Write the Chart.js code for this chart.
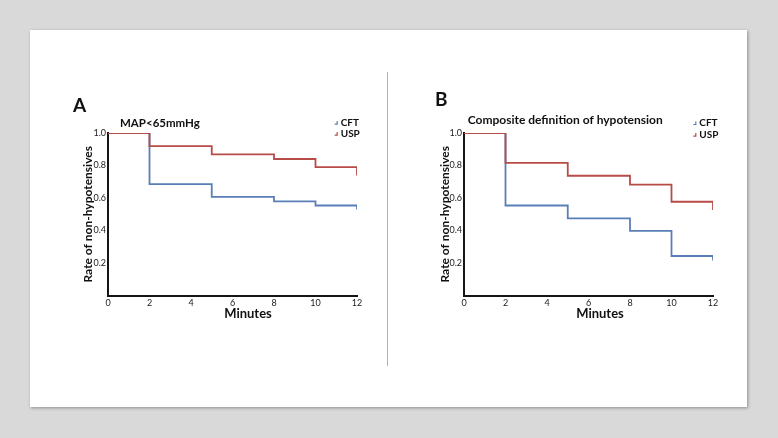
<!DOCTYPE html>
<html>
<head>
<meta charset="utf-8">
<script src="https://cdn.jsdelivr.net/npm/chart.js@4.4.1/dist/chart.umd.min.js"></script>
<style>
  html, body { margin: 0; padding: 0; }
  body { width: 778px; height: 438px; background: #d9d9d9; position: relative; overflow: hidden; font-family: Lato, sans-serif; }
  #card { position: absolute; left: 30px; top: 30px; width: 717px; height: 377px; background: #fff; box-shadow: 1px 1px 3px rgba(0,0,0,0.35); }
  #divider { position: absolute; left: 387px; top: 72px; width: 1px; height: 294px; background: #b3b3b3; }
  canvas { position: absolute; }
  #cA { left: 30px; top: 30px; }
  #cB { left: 389px; top: 30px; }
</style>
</head>
<body>
<div id="card"></div>
<div id="divider"></div>
<canvas id="cA" width="357" height="377"></canvas>
<canvas id="cB" width="357" height="377"></canvas>
<script>
// ---- data ----
const minutes = [0, 2, 5, 8, 10, 12];
const xTicks = [0, 2, 4, 6, 8, 10, 12];
const yTicks = [0.2, 0.4, 0.6, 0.8, 1.0];
const seriesNames = ['CFT', 'USP'];
const panelLetters = ['A', 'B'];
const panelTitles = ['MAP<65mmHg', 'Composite definition of hypotension'];
const xTitle = 'Minutes';
const yTitle = 'Rate of non-hypotensives';
// Panel A (MAP<65mmHg)
const cftA = [1.0, 0.686, 0.607, 0.579, 0.554, 0.53];
const uspA = [1.0, 0.919, 0.869, 0.840, 0.790, 0.739];
// Panel B (composite definition)
const cftB = [1.0, 0.554, 0.475, 0.398, 0.243, 0.216];
const uspB = [1.0, 0.816, 0.737, 0.682, 0.577, 0.526];

const colors = ['#5a7fb6', '#b64b48'];

const panelText = {
  id: 'panelText',
  afterDraw(chart, args, o) {
    const { ctx, chartArea: a } = chart;
    ctx.save();
    ctx.fillStyle = '#111';
    ctx.textBaseline = 'middle';
    ctx.textAlign = 'left';
    ctx.font = 'bold 19px Lato';
    ctx.fillText(o.letter, a.left + o.letterDx, a.top + o.letterDy);
    ctx.font = 'bold ' + o.titleSize + 'px Lato';
    ctx.fillText(o.title, a.left + o.titleDx, a.top + o.titleDy);
    ctx.font = 'bold 10px Lato';
    seriesNames.forEach((n, i) => {
      const x = a.right + o.legendDx;
      const y = a.top + o.legendDy + i * o.legendGap;
      ctx.strokeStyle = colors[i];
      ctx.lineWidth = 1.2;
      ctx.beginPath();
      ctx.moveTo(x - 6, y + 1.5);
      ctx.lineTo(x - 3.5, y + 1.5);
      ctx.lineTo(x - 3.5, y - 1.5);
      ctx.stroke();
      ctx.fillText(n, x, y);
    });
    ctx.textAlign = 'center';
    ctx.font = 'bold 13px Lato';
    ctx.fillText(xTitle, (a.left + a.right) / 2 + o.xTitleDx, a.bottom + o.xTitleDy);
    ctx.restore();
  }
};

function makeChart(id, cft, usp, idx, pad, yWidth, txt) {
  const toPts = arr => minutes.map((m, i) => ({ x: m, y: arr[i] }));
  return new Chart(document.getElementById(id), {
    type: 'line',
    data: {
      datasets: [
        { label: seriesNames[0], data: toPts(cft), borderColor: colors[0], borderWidth: 1.8, pointRadius: 0, stepped: 'before', fill: false, order: 1 },
        { label: seriesNames[1], data: toPts(usp), borderColor: colors[1], borderWidth: 1.8, pointRadius: 0, stepped: 'before', fill: false, order: 0 }
      ]
    },
    options: {
      responsive: false,
      animation: false,
      layout: { padding: pad },
      plugins: {
        legend: { display: false },
        tooltip: { enabled: false },
        panelText: Object.assign({ letter: panelLetters[idx], title: panelTitles[idx] }, txt)
      },
      scales: {
        x: {
          type: 'linear', min: 0, max: 12,
          afterFit: s => { s.height = 30; },
          afterBuildTicks: s => { s.ticks = xTicks.map(v => ({ value: v })); },
          grid: { display: false, drawTicks: false },
          border: { display: true, color: '#151515', width: 2 },
          ticks: { padding: 2, color: '#222', font: { family: 'Lato', size: 9 }, maxRotation: 0 }
        },
        y: {
          min: 0, max: 1.0,
          afterFit: s => { s.width = yWidth; },
          afterBuildTicks: s => { s.ticks = yTicks.map(v => ({ value: v })); },
          grid: { display: false, drawTicks: false },
          border: { display: true, color: '#151515', width: 2 },
          ticks: { padding: 2, color: '#222', font: { family: 'Lato', size: 9 }, callback: v => Number(v).toFixed(1) },
          title: { display: true, text: yTitle, color: '#111', font: { family: 'Lato', size: 12, weight: 'bold' }, padding: { top: 6.8, bottom: 0 } }
        }
      }
    },
    plugins: [panelText]
  });
}

makeChart('cA', cftA, uspA, 0, { left: 44, top: 103, right: 30, bottom: 81.5 }, 34,
  { letterDx: -35, letterDy: -26.7, titleSize: 11.5, titleDx: 12, titleDy: -9.7, legendDx: -16.3, legendDy: -10.4, legendGap: 11, xTitleDx: 15.5, xTitleDy: 18.5 });
makeChart('cB', cftB, uspB, 1, { left: 42, top: 103, right: 33, bottom: 81.5 }, 33,
  { letterDx: -29, letterDy: -33.2, titleSize: 12, titleDx: 3.7, titleDy: -13.2, legendDx: -13.7, legendDy: -10, legendGap: 11.6, xTitleDx: 11.5, xTitleDy: 18.5 });
</script>
</body>
</html>
